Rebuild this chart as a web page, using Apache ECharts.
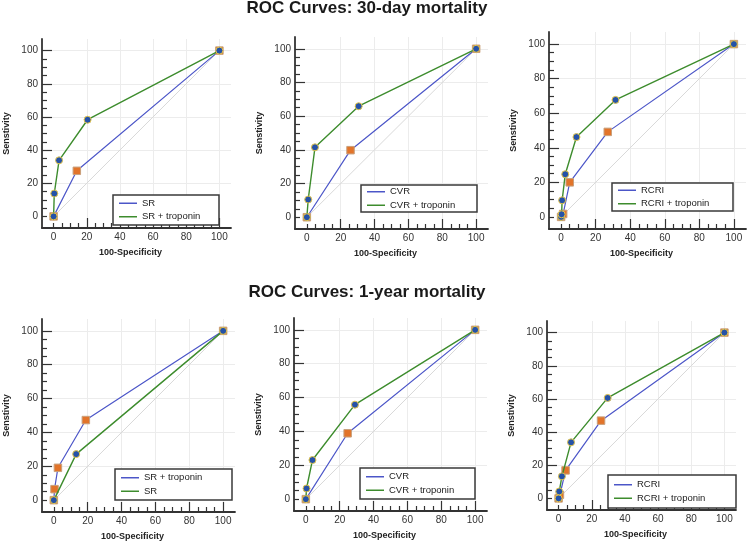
<!DOCTYPE html>
<html><head><meta charset="utf-8">
<script src="https://cdn.jsdelivr.net/npm/echarts@6/dist/echarts.min.js"></script>
<style>html,body{margin:0;padding:0;background:#fff}#c{width:750px;height:542px}</style>
</head><body><div id="c"></div>
<script>
// ---- tick values ----
const tickLabels = [0, 20, 40, 60, 80, 100];
const majorTicks = [20, 40, 60, 80, 100];
const minorTicks = [0, 5, 10, 15, 25, 30, 35, 45, 50, 55, 65, 70, 75, 85, 90, 95];
const gridValues = [20, 40, 60, 80, 100];
const diagonal = [[0, 0], [100, 100]];

const titles = ['ROC Curves: 30-day mortality', 'ROC Curves: 1-year mortality'];

// ---- 30-day mortality ----
const sr30Base   = [[0, 0], [14, 27.5], [100, 100]];
const sr30Trop   = [[0, 0], [0.4, 13.8], [3.3, 33.8], [20.5, 58.3], [100, 100]];
const cvr30Base  = [[0, 0], [25.8, 39.8], [100, 100]];
const cvr30Trop  = [[0, 0], [0.8, 10.5], [4.8, 41.5], [30.6, 65.9], [100, 100]];
const rcri30Base = [[0, 0], [1.2, 1.7], [5, 20], [27, 49.2], [100, 100]];
const rcri30Trop = [[0, 0], [0.3, 1.5], [0.6, 9.6], [2.4, 24.7], [8.9, 46.2], [31.5, 67.7], [100, 100]];

// ---- 1-year mortality ----
const sr1Trop   = [[0, 0], [0.4, 6.5], [2.4, 19.1], [18.9, 47.3], [100, 100]];
const sr1Base   = [[0, 0], [13.2, 27.2], [100, 100]];
const cvr1Base  = [[0, 0], [24.7, 38.9], [100, 100]];
const cvr1Trop  = [[0, 0], [0.4, 6.3], [3.9, 23.1], [29, 55.8], [100, 100]];
const rcri1Base = [[0, 0], [0.8, 2.2], [4.2, 16.9], [25.6, 46.9], [100, 100]];
const rcri1Trop = [[0, 0], [0.4, 4.2], [2, 13.3], [7.5, 33.8], [29.6, 60.6], [100, 100]];

// first series of each panel (blue line, orange squares), second (green line, blue circles)
const blueNames  = ['SR', 'CVR', 'RCRI', 'SR + troponin', 'CVR', 'RCRI'];
const greenNames = ['SR + troponin', 'CVR + troponin', 'RCRI + troponin', 'SR', 'CVR + troponin', 'RCRI + troponin'];
const blueData  = [sr30Base, cvr30Base, rcri30Base, sr1Trop, cvr1Base, rcri1Base];
const greenData = [sr30Trop, cvr30Trop, rcri30Trop, sr1Base, cvr1Trop, rcri1Trop];

// ---- layout ----
const FONT = '"Liberation Sans", Arial, Helvetica, sans-serif';
const grids = [[42, 39, 189, 189], [295, 37, 193, 192], [549, 32, 197, 197],
               [42, 319, 193, 193], [294, 318, 193, 193], [547, 321, 189, 189]];
const legendBoxes = [[113, 195, 106, 30], [361, 185, 116, 27], [612, 183, 121, 28],
                     [115, 469, 117, 31], [360, 468, 115, 31], [608, 475, 128, 33]];

const BLUE = '#4c56c8', GREEN = '#3d8c2d';
const AXIS = '#333333';

const ctx = document.createElement('canvas').getContext('2d');
function textW(s, size) { ctx.font = size + 'px ' + FONT; return ctx.measureText(s).width; }

const option = {
  animation: false,
  backgroundColor: '#ffffff',
  textStyle: { fontFamily: FONT },
  grid: [], xAxis: [], yAxis: [], series: [], legend: [],
  graphic: [
    { type: 'text', x: 367, y: 8, style: { text: titles[0], fontFamily: FONT, fontSize: 17, fontWeight: 'bold', fill: '#1a1a1a', align: 'center', verticalAlign: 'middle' } },
    { type: 'text', x: 367, y: 292, style: { text: titles[1], fontFamily: FONT, fontSize: 17, fontWeight: 'bold', fill: '#1a1a1a', align: 'center', verticalAlign: 'middle' } }
  ]
};

for (let i = 0; i < 6; i++) {
  const g = grids[i];
  option.grid.push({ left: g[0], top: g[1], width: g[2], height: g[3], containLabel: false, outerBoundsMode: 'none' });
  const common = { type: 'value', min: -7, max: 107, gridIndex: i, splitLine: { show: false } };
  // main x axis
  option.xAxis.push(Object.assign({}, common, {
    position: 'bottom',
    name: '100-Specificity', nameLocation: 'middle', nameGap: 20,
    nameTextStyle: { fontWeight: 'bold', fontSize: 9, color: '#222', padding: [0, 12, 0, 0] },
    axisLine: { show: true, onZero: false, lineStyle: { color: AXIS, width: 1.8 } },
    axisTick: { show: true, inside: true, length: 10, customValues: majorTicks, lineStyle: { color: AXIS, width: 1.2 } },
    axisLabel: { customValues: tickLabels, fontSize: 10, color: '#333', margin: 4 }
  }));
  // minor tick x axis
  option.xAxis.push(Object.assign({}, common, {
    position: 'bottom',
    axisLine: { show: false, onZero: false },
    axisTick: { show: true, inside: true, length: 5, customValues: minorTicks, lineStyle: { color: AXIS, width: 1.2 } },
    axisLabel: { show: false }
  }));
  option.yAxis.push(Object.assign({}, common, {
    position: 'left',
    name: 'Senstivity', nameLocation: 'middle', nameGap: 31,
    nameTextStyle: { fontWeight: 'bold', fontSize: 9, color: '#222', padding: [0, 0, 0, 0] },
    axisLine: { show: true, onZero: false, lineStyle: { color: AXIS, width: 1.8 } },
    axisTick: { show: true, inside: true, length: 10, customValues: majorTicks, lineStyle: { color: AXIS, width: 1.2 } },
    axisLabel: { customValues: tickLabels, fontSize: 10, color: '#333', margin: 4 }
  }));
  option.yAxis.push(Object.assign({}, common, {
    position: 'left',
    axisLine: { show: false, onZero: false },
    axisTick: { show: true, inside: true, length: 5, customValues: minorTicks, lineStyle: { color: AXIS, width: 1.2 } },
    axisLabel: { show: false }
  }));

  const xi = 2 * i, yi = 2 * i;
  const markData = gridValues.map(v => ({ xAxis: v })).concat(gridValues.map(v => ({ yAxis: v })));
  option.series.push({
    type: 'line', name: 'ref#' + i, xAxisIndex: xi, yAxisIndex: yi, data: diagonal,
    symbol: 'none', silent: true, z: 1,
    lineStyle: { color: '#d9d9d9', width: 1 },
    markLine: { silent: true, z: 0, symbol: ['none', 'none'], label: { show: false },
      lineStyle: { color: '#ececec', type: 'solid', width: 1 }, emphasis: { disabled: true }, data: markData }
  });
  option.series.push({
    type: 'line', name: blueNames[i] + '#' + i, xAxisIndex: xi, yAxisIndex: yi, data: blueData[i],
    symbol: 'rect', symbolSize: 7.5, z: 3, showAllSymbol: true,
    lineStyle: { color: BLUE, width: 1.2 },
    itemStyle: { color: '#e2742a', borderColor: '#c9a07c', borderWidth: 1 },
    emphasis: { disabled: true }
  });
  option.series.push({
    type: 'line', name: greenNames[i] + '#' + i, xAxisIndex: xi, yAxisIndex: yi, data: greenData[i],
    symbol: 'circle', symbolSize: 7, z: 4, showAllSymbol: true,
    lineStyle: { color: GREEN, width: 1.4 },
    itemStyle: { color: '#2552a8', borderColor: '#e3c54c', borderWidth: 1 },
    emphasis: { disabled: true }
  });

  const lb = legendBoxes[i];
  const fs = 9.5, textH = 10, gap = 3.5;
  const tw = Math.max(textW(blueNames[i], fs), textW(greenNames[i], fs));
  const padL = 6;
  const padR = Math.max(2, lb[2] - padL - 18 - 5 - tw);
  const padV = (lb[3] - 2 * textH - gap) / 2;
  option.legend.push({
    orient: 'vertical', left: lb[0], top: lb[1], z: 10,
    padding: [padV, padR, padV, padL], itemGap: gap,
    itemWidth: 18, itemHeight: 1.5,
    backgroundColor: '#ffffff', borderColor: '#3a3a3a', borderWidth: 1.5, borderRadius: 0,
    selectedMode: false,
    textStyle: { fontSize: fs, color: '#222', fontFamily: FONT },
    formatter: n => n.split('#')[0],
    data: [
      { name: blueNames[i] + '#' + i, icon: 'rect', itemStyle: { color: BLUE, borderWidth: 0 } },
      { name: greenNames[i] + '#' + i, icon: 'rect', itemStyle: { color: GREEN, borderWidth: 0 } }
    ]
  });
}

const chart = echarts.init(document.getElementById('c'), null, { renderer: 'canvas', width: 750, height: 542 });
chart.setOption(option);
</script>
</body></html>
